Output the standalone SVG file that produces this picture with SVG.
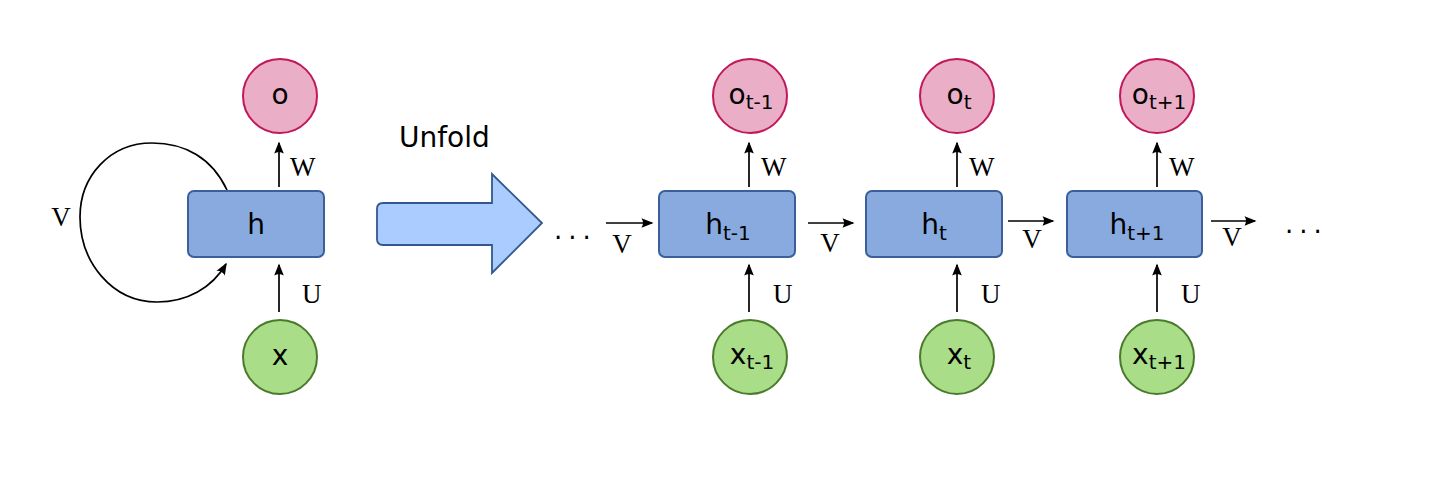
<svg xmlns="http://www.w3.org/2000/svg" width="1430" height="477" viewBox="0 0 1430 477">
<style>
.box{fill:#88aadf;stroke:#3b5f9b;stroke-width:2}
.out{fill:#eaafc7;stroke:#c2185b;stroke-width:2}
.in{fill:#a9dd88;stroke:#4a7a2c;stroke-width:2}
.lbl{font-family:"DejaVu Sans",sans-serif;font-size:28px;fill:#000;text-anchor:middle}
.sub{font-size:20px}
.w{font-family:"Liberation Serif","Times New Roman",serif;font-size:27px;fill:#000}
.edge{stroke:#000;stroke-width:1.7;fill:none;marker-end:url(#ah)}
.dots{font-family:"DejaVu Sans",sans-serif;font-size:26px;letter-spacing:6px;fill:#000}
</style>
<defs>
<marker id="ah" markerUnits="userSpaceOnUse" markerWidth="14" markerHeight="10" viewBox="-12 -5 14 10" refX="0" refY="0" orient="auto" overflow="visible">
<path d="M1.5,0 L-10.5,-4.8 Q-7.5,0 -10.5,4.8 Z" fill="#000"/>
</marker>
</defs>
<rect width="1430" height="477" fill="#fff"/>

<g id="connectors">
<path class="edge" d="M227,190 C212,158 185,143 152,143 C110,143 80,176 80,217 C80,262 112,302 157,302 C187,302 212,288 226,264"/>
<line class="edge" x1="279" y1="187" x2="279" y2="143"/>
<line class="edge" x1="279" y1="312" x2="279" y2="265"/>
<line class="edge" x1="749" y1="187" x2="749" y2="143"/>
<line class="edge" x1="749" y1="312" x2="749" y2="265"/>
<line class="edge" x1="957" y1="187" x2="957" y2="143"/>
<line class="edge" x1="957" y1="312" x2="957" y2="265"/>
<line class="edge" x1="1157" y1="187" x2="1157" y2="143"/>
<line class="edge" x1="1157" y1="312" x2="1157" y2="265"/>
<line class="edge" x1="606" y1="223" x2="652" y2="223"/>
<line class="edge" x1="808" y1="223" x2="853" y2="223"/>
<line class="edge" x1="1008" y1="221" x2="1053" y2="221"/>
<line class="edge" x1="1211" y1="221" x2="1255" y2="221"/>
<text class="w" x="61" y="226" text-anchor="middle">V</text>
<text class="w" x="290" y="176">W</text>
<text class="w" x="302" y="303">U</text>
<text class="w" x="761" y="176">W</text>
<text class="w" x="773" y="303">U</text>
<text class="w" x="969" y="176">W</text>
<text class="w" x="981" y="303">U</text>
<text class="w" x="1169" y="176">W</text>
<text class="w" x="1181" y="303">U</text>
<text class="w" x="622" y="253" text-anchor="middle">V</text>
<text class="w" x="830" y="252" text-anchor="middle">V</text>
<text class="w" x="1032" y="248" text-anchor="middle">V</text>
<text class="w" x="1232" y="246" text-anchor="middle">V</text>
</g>

<g id="unfold">
<path d="M383,203 L492,203 L492,174 L542,223 L492,273 L492,245 L383,245 Q377,245 377,239 L377,209 Q377,203 383,203 Z" fill="#aaccff" stroke="#33578f" stroke-width="1.8"/>
<text x="399" y="147" font-family="'DejaVu Sans',sans-serif" font-size="28" fill="#000">Unfold</text>
</g>

<g id="dots-left"><text class="dots" x="554" y="239">...</text></g>
<g id="dots-right"><text class="dots" x="1285" y="233">...</text></g>

<g id="node-o"><circle class="out" cx="280" cy="96" r="37"/><text class="lbl" x="280" y="104">o</text></g>
<g id="node-h"><rect class="box" x="188" y="191" width="136" height="66" rx="6"/><text class="lbl" x="256" y="234">h</text></g>
<g id="node-x"><circle class="in" cx="280" cy="357" r="37"/><text class="lbl" x="280" y="365">x</text></g>

<g id="node-o-tm1"><circle class="out" cx="750" cy="96" r="37"/><text class="lbl" x="751" y="104">o<tspan class="sub" dy="5">t-1</tspan></text></g>
<g id="node-h-tm1"><rect class="box" x="659" y="191" width="136" height="66" rx="6"/><text class="lbl" x="728" y="234">h<tspan class="sub" dy="6">t-1</tspan></text></g>
<g id="node-x-tm1"><circle class="in" cx="750" cy="357" r="37"/><text class="lbl" x="752" y="364">x<tspan class="sub" dy="5">t-1</tspan></text></g>

<g id="node-o-t"><circle class="out" cx="957" cy="96" r="37"/><text class="lbl" x="959" y="104">o<tspan class="sub" dy="5">t</tspan></text></g>
<g id="node-h-t"><rect class="box" x="866" y="191" width="136" height="66" rx="6"/><text class="lbl" x="934" y="234">h<tspan class="sub" dy="6">t</tspan></text></g>
<g id="node-x-t"><circle class="in" cx="957" cy="357" r="37"/><text class="lbl" x="959" y="364">x<tspan class="sub" dy="5">t</tspan></text></g>

<g id="node-o-tp1"><circle class="out" cx="1157" cy="96" r="37"/><text class="lbl" x="1159" y="104">o<tspan class="sub" dy="5">t+1</tspan></text></g>
<g id="node-h-tp1"><rect class="box" x="1067" y="191" width="135" height="66" rx="6"/><text class="lbl" x="1137" y="234">h<tspan class="sub" dy="6">t+1</tspan></text></g>
<g id="node-x-tp1"><circle class="in" cx="1157" cy="357" r="37"/><text class="lbl" x="1159" y="364">x<tspan class="sub" dy="5">t+1</tspan></text></g>
</svg>
